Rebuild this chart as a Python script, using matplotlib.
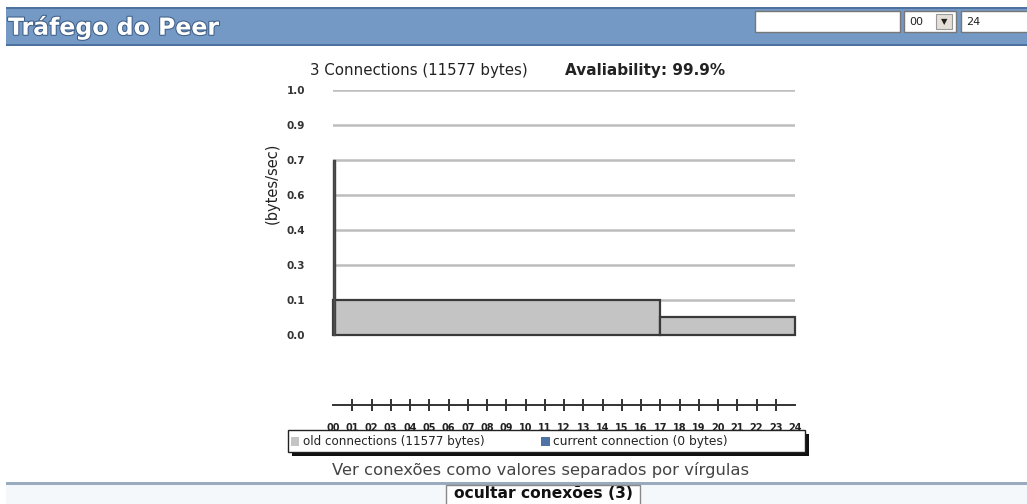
import matplotlib
matplotlib.use('Agg')
import matplotlib.pyplot as plt
import matplotlib.patheffects as pe
from matplotlib.patches import Rectangle

# dados
seg_start = [0, 17]
seg_end = [17, 24]
seg_rate = [0.143, 0.072]          # bytes/sec, conexões antigas
spike_hour = [0]
spike_rate = [0.714]
hours = list(range(25))
hour_labels = ['%02d' % h for h in hours]
yticks = [k / 7 for k in range(8)]

W, H = 1027, 504
fig = plt.figure(figsize=(W / 100, H / 100), dpi=100)
fig.patch.set_facecolor('white')

def fx(px):
    return px / W

def fy(py):
    return 1 - py / H

def box(x0, y0, x1, y1, **kw):
    # retângulo em pixels (origem no topo)
    fig.patches.append(Rectangle((fx(x0), fy(y1)), fx(x1 - x0), fy(y0) - fy(y1),
                                 transform=fig.transFigure, **kw))

# cabeçalho azul
box(6, 7, 1030, 46, facecolor='#7399c4', edgecolor='none')
box(6, 7, 1030, 9, facecolor='#4d72a0', edgecolor='none')
box(6, 44, 1030, 46, facecolor='#4d72a0', edgecolor='none')
fig.text(fx(8), fy(27), 'Tráfego do Peer', color='white', fontsize=17, fontweight='bold',
         va='center', ha='left',
         path_effects=[pe.withStroke(linewidth=1.5, foreground='#3f5f88')])
# caixas de formulário
box(755, 11, 900, 32, facecolor='white', edgecolor='#777777', lw=1)
box(904, 11, 956, 32, facecolor='white', edgecolor='#777777', lw=1)
fig.text(fx(909), fy(22), '00', fontsize=8, va='center', color='#222222')
box(936, 14, 952, 29, facecolor='#e4e0d8', edgecolor='#999999', lw=0.8)
fig.text(fx(944), fy(22), '▼', fontsize=6, va='center', ha='center', color='#222222')
box(961, 11, 1041, 32, facecolor='white', edgecolor='#777777', lw=1)
fig.text(fx(966), fy(22), '24', fontsize=8, va='center', color='#222222')

# títulos do gráfico
fig.text(fx(310), fy(70), '3 Connections (11577 bytes)', fontsize=10.8, va='center', color='#222222')
fig.text(fx(565), fy(70), 'Avaliability: 99.9%', fontsize=11, fontweight='bold', va='center',
         color='#222222')

# gráfico principal
ax = fig.add_axes([fx(333), fy(335), fx(795) - fx(333), fy(90) - fy(335)])
ax.set_xlim(0, 24)
ax.set_ylim(0, 1)
for s, e, r in zip(seg_start, seg_end, seg_rate):
    ax.bar(s, r, width=e - s, align='edge', color='#c4c4c4', edgecolor='#3a3a3a',
           linewidth=1.6, zorder=3, clip_on=False)
ax.bar(spike_hour, spike_rate, width=0.12, align='edge', color='#555555', edgecolor='#444444',
       linewidth=1, zorder=4, clip_on=False)
ax.set_yticks(yticks)
ax.set_yticklabels(['%.1f' % v for v in yticks], fontsize=7.5, fontweight='bold', color='#333333')
ax.tick_params(axis='y', length=0, pad=20)
ax.set_xticks([])
ax.grid(axis='y', color='#bdbdbd', linewidth=1.8, zorder=0)
for sp in ax.spines.values():
    sp.set_visible(False)
ax.set_ylabel('(bytes/sec)', fontsize=10.5, color='#222222')
ax.yaxis.set_label_coords(-0.115, 0.62)

# eixo das horas
ax2 = fig.add_axes([fx(333), fy(405), fx(795) - fx(333), 0.001])
ax2.set_xlim(0, 24)
ax2.set_yticks([])
for sp in ['top', 'left', 'right']:
    ax2.spines[sp].set_visible(False)
ax2.spines['bottom'].set_color('#333333')
ax2.spines['bottom'].set_linewidth(1.4)
ax2.xaxis.remove_overlapping_locs = False
ax2.set_xticks(hours)
ax2.set_xticklabels(hour_labels, fontsize=7, fontweight='bold', color='#222222')
ax2.set_xticks(hours[1:-1], minor=True)
ax2.tick_params(axis='x', which='major', length=0, pad=13)
ax2.tick_params(axis='x', which='minor', direction='inout', length=9, width=1.4, color='#333333')
ax2.patch.set_visible(False)

# legenda
box(292, 434, 809, 456, facecolor='#111111', edgecolor='none')
box(288, 430, 805, 452, facecolor='white', edgecolor='#222222', lw=1)
box(291, 437, 299, 446, facecolor='#c4c4c4', edgecolor='none')
fig.text(fx(303), fy(441.5), 'old connections (11577 bytes)', fontsize=8.6, va='center',
         color='#222222')
box(541, 437, 550, 446, facecolor='#4f73a6', edgecolor='none')
fig.text(fx(553), fy(441.5), 'current connection (0 bytes)', fontsize=8.8, va='center',
         color='#222222')

fig.text(fx(541), fy(470), 'Ver conexões como valores separados por vírgulas', fontsize=11.8,
         ha='center', va='center', color='#444444')

# rodapé
box(6, 484, 1030, 510, facecolor='#f5f8fb', edgecolor='none')
box(6, 482, 1030, 485, facecolor='#9aabbf', edgecolor='none')
box(446, 485, 640, 506, facecolor='white', edgecolor='#888888', lw=1)
fig.text(fx(543), fy(494), 'ocultar conexões (3)', fontsize=11.2, fontweight='bold',
         ha='center', va='center', color='#111111')

fig.savefig('out.png', dpi=100)
